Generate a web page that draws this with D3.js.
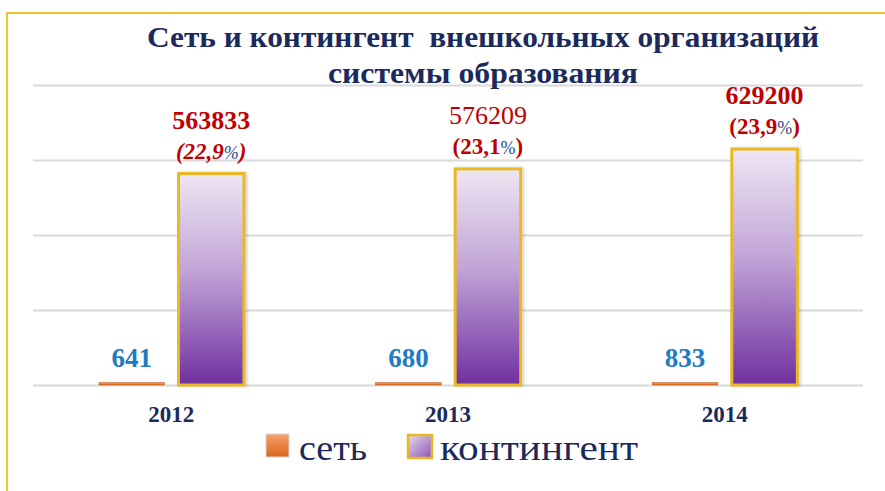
<!DOCTYPE html>
<html>
<head>
<meta charset="utf-8">
<script src="https://cdn.jsdelivr.net/npm/d3@7"></script>
<style>
  html, body { margin: 0; padding: 0; background: #fff; }
  svg { display: block; }
  svg text { font-family: "Liberation Serif", "DejaVu Serif", serif; }
</style>
</head>
<body>
<svg id="canvas"></svg>
<script>
// chart data
const years = ["2012", "2013", "2014"];
const setValues = [641, 680, 833];
const contValues = [563833, 576209, 629200];
const contShares = ["22,9", "23,1", "23,9"];
const seriesNames = ["сеть", "контингент"];
const titleLines = ["Сеть и контингент  внешкольных организаций", "системы образования"];
const yTicks = [0, 200000, 400000, 600000, 800000];

const width = 885;
const height = 491;
const navy = "#1b2a5c";
const serif = "'Liberation Serif', 'DejaVu Serif', serif";

const svg = d3.select("#canvas")
    .attr("width", width)
    .attr("height", height);

const defs = svg.append("defs");

const purpleGrad = defs.append("linearGradient")
    .attr("id", "purple")
    .attr("x1", 0).attr("y1", 0).attr("x2", 0).attr("y2", 1);
purpleGrad.append("stop").attr("offset", "0%").attr("stop-color", "#eee6f3");
purpleGrad.append("stop").attr("offset", "45%").attr("stop-color", "#c3a6d8");
purpleGrad.append("stop").attr("offset", "100%").attr("stop-color", "#7030a0");

const orangeGrad = defs.append("linearGradient")
    .attr("id", "orange")
    .attr("x1", 0).attr("y1", 0).attr("x2", 0).attr("y2", 1);
orangeGrad.append("stop").attr("offset", "0%").attr("stop-color", "#f7a26a");
orangeGrad.append("stop").attr("offset", "100%").attr("stop-color", "#d9651c");

const legendPurple = defs.append("linearGradient")
    .attr("id", "legendPurple")
    .attr("x1", 0).attr("y1", 0).attr("x2", 1).attr("y2", 1);
legendPurple.append("stop").attr("offset", "0%").attr("stop-color", "#e6d9ef");
legendPurple.append("stop").attr("offset", "100%").attr("stop-color", "#8a55b5");

const shadow = defs.append("filter").attr("id", "shadow")
    .attr("x", "-20%").attr("y", "-20%").attr("width", "140%").attr("height", "140%");
shadow.append("feDropShadow")
    .attr("dx", 2).attr("dy", 0).attr("stdDeviation", 1.5)
    .attr("flood-color", "#000").attr("flood-opacity", 0.18);

// frame
svg.append("path")
    .attr("d", `M7,${height} V13 H${width}`)
    .attr("fill", "none")
    .attr("stroke", "#f3c22f")
    .attr("stroke-width", 2);

// scales
const plotLeft = 33, plotRight = 863, plotTop = 85, plotBottom = 385;

const yScale = d3.scaleLinear()
    .domain([0, 800000])
    .range([plotBottom, plotTop]);

const x0 = d3.scaleBand()
    .domain(years)
    .range([plotLeft, plotRight])
    .padding(0);

const x1 = d3.scaleBand()
    .domain(seriesNames)
    .range([66, 211])
    .paddingInner(0.176);

// gridlines
const yAxis = d3.axisLeft(yScale)
    .tickValues(yTicks)
    .tickSize(-(plotRight - plotLeft))
    .tickFormat("");

const grid = svg.append("g")
    .attr("transform", `translate(${plotLeft}, 0)`)
    .call(yAxis);
grid.select(".domain").remove();
grid.selectAll(".tick line")
    .attr("stroke", "#d9d9d9")
    .attr("stroke-width", 2);

// title
svg.append("text")
    .attr("x", 483)
    .attr("y", 47)
    .attr("text-anchor", "middle")
    .attr("font-family", serif)
    .attr("font-size", 30)
    .attr("font-weight", "bold")
    .attr("fill", navy)
    .attr("textLength", 672)
    .attr("lengthAdjust", "spacingAndGlyphs")
    .style("white-space", "pre")
    .text(titleLines[0]);

svg.append("text")
    .attr("x", 483)
    .attr("y", 83)
    .attr("text-anchor", "middle")
    .attr("font-family", serif)
    .attr("font-size", 30)
    .attr("font-weight", "bold")
    .attr("fill", navy)
    .attr("textLength", 310)
    .attr("lengthAdjust", "spacingAndGlyphs")
    .text(titleLines[1]);

// bars
const groups = svg.selectAll(".year")
    .data(years)
    .enter()
    .append("g")
    .attr("class", "year")
    .attr("transform", d => `translate(${x0(d)}, 0)`);

groups.append("rect")
    .attr("x", x1("сеть"))
    .attr("y", (d, i) => Math.min(yScale(setValues[i]), plotBottom - 2.5))
    .attr("width", x1.bandwidth())
    .attr("height", (d, i) => Math.max(plotBottom - yScale(setValues[i]), 2.5))
    .attr("fill", "url(#orange)")
    .attr("stroke", "#b5541a")
    .attr("stroke-width", 0.5);

groups.append("rect")
    .attr("x", x1("контингент"))
    .attr("y", (d, i) => yScale(contValues[i]))
    .attr("width", x1.bandwidth())
    .attr("height", (d, i) => plotBottom - yScale(contValues[i]))
    .attr("fill", "url(#purple)")
    .attr("stroke", "#e9b824")
    .attr("stroke-width", 3)
    .attr("filter", "url(#shadow)");

// set labels
groups.append("text")
    .attr("x", x1("сеть") + x1.bandwidth() / 2)
    .attr("y", 367)
    .attr("text-anchor", "middle")
    .attr("font-family", serif)
    .attr("font-size", 27)
    .attr("font-weight", "bold")
    .attr("fill", "#1f7cc4")
    .text((d, i) => setValues[i]);

// contingent labels
const valueWeight = ["bold", "normal", "bold"];
groups.append("text")
    .attr("x", x1("контингент") + x1.bandwidth() / 2)
    .attr("y", (d, i) => yScale(contValues[i]) - 45)
    .attr("text-anchor", "middle")
    .attr("font-family", serif)
    .attr("font-size", 26)
    .attr("font-weight", (d, i) => valueWeight[i])
    .attr("fill", "#c00000")
    .text((d, i) => contValues[i]);

const share = groups.append("text")
    .attr("x", x1("контингент") + x1.bandwidth() / 2)
    .attr("y", (d, i) => yScale(contValues[i]) - 15)
    .attr("text-anchor", "middle")
    .attr("font-family", serif)
    .attr("font-size", 23)
    .attr("font-weight", "bold")
    .attr("font-style", (d, i) => i === 0 ? "italic" : "normal")
    .attr("fill", "#c00000");
share.append("tspan").text((d, i) => "(" + contShares[i]);
share.append("tspan")
    .attr("font-size", 18)
    .attr("font-weight", "normal")
    .attr("fill", "#2d4a8a")
    .text("%");
share.append("tspan").text(")");

// year labels
groups.append("text")
    .attr("x", x0.bandwidth() / 2)
    .attr("y", 422)
    .attr("text-anchor", "middle")
    .attr("font-family", serif)
    .attr("font-size", 23)
    .attr("font-weight", "bold")
    .attr("fill", navy)
    .text(d => d);

// legend
const legend = svg.append("g");
legend.append("rect")
    .attr("x", 266).attr("y", 434)
    .attr("width", 23).attr("height", 23)
    .attr("fill", "url(#orange)")
    .attr("stroke", "#d8d8d8")
    .attr("stroke-width", 1);
legend.append("text")
    .attr("x", 299).attr("y", 460)
    .attr("font-family", serif)
    .attr("font-size", 36)
    .attr("fill", navy)
    .attr("textLength", 68)
    .attr("lengthAdjust", "spacingAndGlyphs")
    .text(seriesNames[0]);
legend.append("rect")
    .attr("x", 408).attr("y", 435)
    .attr("width", 24).attr("height", 23)
    .attr("fill", "url(#legendPurple)")
    .attr("stroke", "#e9b824")
    .attr("stroke-width", 2.5);
legend.append("text")
    .attr("x", 440).attr("y", 460)
    .attr("font-family", serif)
    .attr("font-size", 36)
    .attr("fill", navy)
    .attr("textLength", 198)
    .attr("lengthAdjust", "spacingAndGlyphs")
    .text(seriesNames[1]);
</script>
</body>
</html>
